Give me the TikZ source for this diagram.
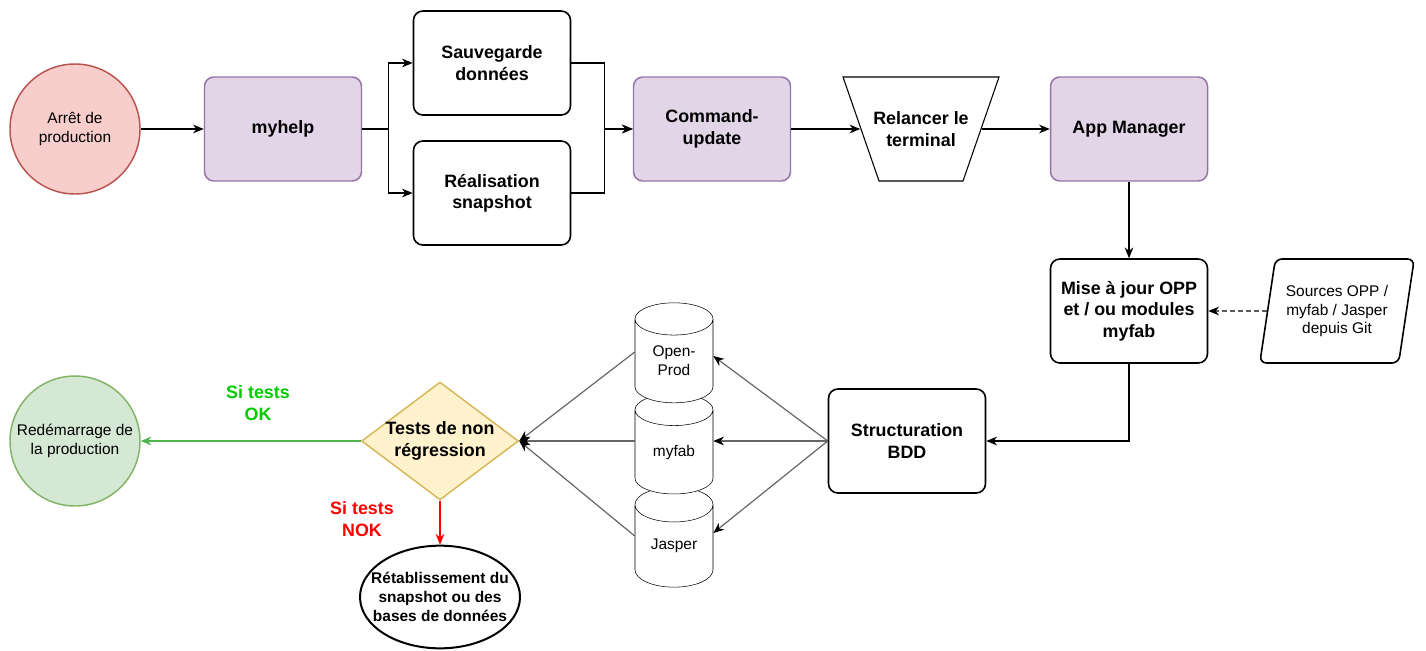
\documentclass[tikz,border=0pt]{standalone}
\usepackage{fontspec}
\setmainfont{Liberation Sans}
\usepackage{tikz}
\usetikzlibrary{arrows.meta,shapes.geometric}

\begin{document}
\begin{tikzpicture}[x=0.75pt,y=0.75pt,yscale=-1,xscale=1,
  txt/.style={font=\fontsize{11.6}{14}\selectfont, align=center},
  bld/.style={font=\bfseries\fontsize{13.4}{16}\selectfont, align=center},
  box/.style={bld, draw, line width=1.2pt, rounded corners=7pt, minimum width=117.75pt, minimum height=78pt, inner sep=0pt},
  purp/.style={box, line width=1.1pt, draw={rgb, 255:red, 150; green, 115; blue, 166}, fill={rgb, 255:red, 225; green, 213; blue, 231}},
  db/.style={txt, draw, fill=white, cylinder, shape border rotate=90, aspect=0.75, minimum width=58.5pt, minimum height=75pt, inner sep=0pt},
  arr/.style={-{Stealth[length=8pt,width=6.5pt,inset=2.5pt]}, line width=0.9pt},
  dbarr/.style={-{Stealth[length=8pt,width=6.5pt,inset=2.5pt,black]}, draw=black!60, line width=0.9pt},
]
\path[use as bounding box] (0,0) rectangle (1426,650);

%Shape: Circle
\node[txt, circle, draw={rgb, 255:red, 184; green, 84; blue, 80}, fill={rgb, 255:red, 248; green, 206; blue, 204}, line width=1.1pt, minimum size=97.5pt, inner sep=0pt] (arret) at (75,129) {Arrêt de\\production};
%Shape: Rounded Rect
\node[purp] (myhelp) at (283,129) {myhelp};
\node[box] (sauv) at (492,63) {Sauvegarde\\données};
\node[box] (snap) at (492,193) {Réalisation\\snapshot};
\node[purp] (cmd) at (712,129) {Command-\\update};
%Shape: Trapezoid
\draw[line width=0.8pt] (843,77) -- (999,77) -- (963,181) -- (879,181) -- cycle;
\node[bld, minimum width=90.75pt, minimum height=78pt, inner sep=0pt] (relancer) at (921,129) {Relancer le\\terminal};
\node[purp] (appmgr) at (1129,129) {App Manager};
\node[box] (maj) at (1129,311) {Mise à jour OPP\\et / ou modules\\myfab};
%Shape: Parallelogram
\node[txt, draw, line width=1.2pt, trapezium, trapezium left angle=76, trapezium right angle=104, trapezium stretches=true, rounded corners=5pt, minimum width=116pt, minimum height=78pt, inner sep=0pt] (sources) at (1337,311) {Sources OPP /\\myfab / Jasper\\depuis Git};
\node[box] (struct) at (907,441) {Structuration\\BDD};

%Shape: Cylinders
\node[db] (jasper) at (674,546) {Jasper};
\node[db] (myfab) at (674,452) {myfab};
\node[db] (openprod) at (674,361) {Open-\\Prod};

%Shape: Diamond
\node[diamond, draw={rgb, 255:red, 214; green, 182; blue, 86}, fill={rgb, 255:red, 255; green, 242; blue, 204}, line width=1.1pt, minimum width=117.75pt, minimum height=88.5pt, inner sep=0pt] (tests) at (440,441) {};
\node[bld] (testslbl) at (tests) {Tests de non\\régression};

%Shape: Circle
\node[txt, circle, draw={rgb, 255:red, 130; green, 179; blue, 102}, fill={rgb, 255:red, 213; green, 232; blue, 212}, line width=1.1pt, minimum size=97.5pt, inner sep=0pt] (redem) at (75,441) {Redémarrage de\\la production};
%Shape: Ellipse
\node[ellipse, draw, line width=1.5pt, minimum width=120pt, minimum height=77pt, inner sep=0pt] (retab) at (440,597) {};
\node[bld, font=\bfseries\fontsize{11.6}{14.25}\selectfont] (retablbl) at (retab) {Rétablissement du\\snapshot ou des\\bases de données};

% Text Node
\node[bld, text={rgb, 255:red, 0; green, 204; blue, 0}] (oklbl) at (258,403) {Si tests\\OK};
% Text Node
\node[bld, text={rgb, 255:red, 255; green, 0; blue, 0}] (noklbl) at (362,519) {Si tests\\NOK};

%Straight Lines
\draw[arr] (arret) -- (myhelp);
\draw[arr] (myhelp.east) -- ++(26,0) |- (sauv.west);
\draw[arr] (myhelp.east) -- ++(26,0) |- (snap.west);
\draw[arr] (sauv.east) -- ++(33,0) |- (cmd.west);
\draw[arr] (snap.east) -- ++(33,0) |- (cmd.west);
\draw[arr] (cmd) -- (relancer);
\draw[arr] (relancer) -- (appmgr);
\draw[arr] (appmgr) -- (maj);
\draw[arr, dash pattern=on 3.5pt off 2.5pt] (sources) -- (maj);
\draw[arr] (maj.south) |- (struct.east);
%Straight Lines
\draw[dbarr] (struct.west) -- ([yshift=-3.75pt]openprod.east);
\draw[dbarr] (struct.west) -- (myfab.east |- struct.west);
\draw[dbarr] (struct.west) -- ([yshift=-9.75pt]jasper.east);
\draw[dbarr] ([yshift=-6.75pt]openprod.west) -- (tests.east);
\draw[dbarr] (myfab.west |- tests.east) -- (tests.east);
\draw[dbarr] ([yshift=-7.5pt]jasper.west) -- (tests.east);
%Straight Lines
\draw[arr, draw={rgb, 255:red, 80; green, 180; blue, 80}] (tests.west) -- (redem.east);
\draw[arr, draw={rgb, 255:red, 255; green, 0; blue, 0}] (tests.south) -- (retab.north);

\end{tikzpicture}
\end{document}
